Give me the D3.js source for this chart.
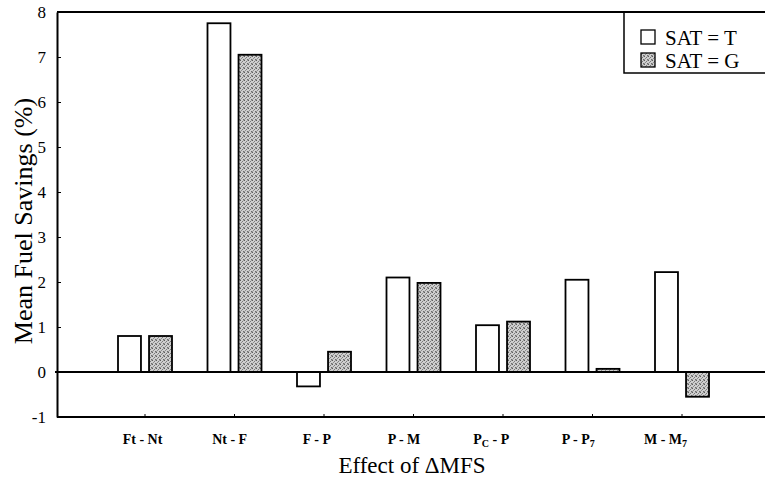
<!DOCTYPE html>
<html><head><meta charset="utf-8">
<script src="https://cdn.jsdelivr.net/npm/d3@7"></script>
<style>body{margin:0;background:#fff}svg{display:block}text{font-family:"Liberation Serif","Times New Roman",serif;fill:#000}</style>
</head><body><svg id="c" width="765" height="486"></svg>
<script>
const categories = ["Ft - Nt","Nt - F","F - P","P - M","Pc - P","P - P7","M - M7"];
const seriesNames = ["SAT = T","SAT = G"];
const valuesT = [0.8, 7.75, -0.32, 2.1, 1.04, 2.05, 2.22];
const valuesG = [0.8, 7.05, 0.45, 1.98, 1.12, 0.07, -0.55];
const yTicks = [-1,0,1,2,3,4,5,6,7,8];

const svg = d3.select("#c");
const defs = svg.append("defs");
const pat = defs.append("pattern").attr("id","stip").attr("width",4).attr("height",4).attr("patternUnits","userSpaceOnUse");
pat.append("rect").attr("width",4).attr("height",4).attr("fill","#cfcfcf");
[[0,0,"#5e5e5e"],[2,1,"#7a7a7a"],[1,2,"#8c8c8c"],[3,3,"#6e6e6e"],[3,0,"#a0a0a0"],[0,3,"#999"]].forEach(p=>
  pat.append("rect").attr("x",p[0]).attr("y",p[1]).attr("width",1).attr("height",1).attr("fill",p[2]));

const L = 57, R = 770, T = 12, B = 417;
const y = d3.scaleLinear().domain([-1,8]).range([B,T]);
const x = d3.scaleBand().domain(categories).range([100.25, 726.75]).padding(0);
const xi = d3.scaleBand().domain(["T","G"]).range([17.75, 71.75]).paddingInner(0.26);
const xl = d3.scalePoint().domain(categories).range([142, 665]);

const data = categories.map((c,i)=>({c, T:valuesT[i], G:valuesG[i]}));
const g = svg.append("g");
const fills = {T:"#fff", G:"url(#stip)"};
["T","G"].forEach(k=>{
  g.selectAll("rect.b"+k).data(data).join("rect")
    .attr("x", d=>x(d.c)+xi(k))
    .attr("width", xi.bandwidth())
    .attr("y", d=>y(Math.max(0,d[k])))
    .attr("height", d=>Math.abs(y(d[k])-y(0)))
    .attr("fill", fills[k]).attr("stroke","#000").attr("stroke-width",1.8);
});

// frame
svg.append("line").attr("x1",L).attr("x2",R).attr("y1",B).attr("y2",B).attr("stroke","#000").attr("stroke-width",2);
svg.append("line").attr("x1",L-2).attr("x2",R).attr("y1",y(0)).attr("y2",y(0)).attr("stroke","#000").attr("stroke-width",2);

// y axis
const ya = svg.append("g").attr("transform",`translate(${L},0)`)
  .call(d3.axisLeft(y).tickValues(yTicks).tickSizeInner(-4).tickSizeOuter(0).tickPadding(11).tickFormat(d=>String(d)));
ya.select(".domain").attr("stroke-width",2);
ya.selectAll("text").attr("font-size",17).style("font-family","Liberation Serif");

// x ticks
const xa = svg.append("g").attr("transform",`translate(0,${B})`)
  .call(d3.axisBottom(x).tickSizeInner(-3).tickSizeOuter(0).tickFormat(""));
xa.select(".domain").remove();
// x tick labels
const xla = svg.append("g").attr("transform",`translate(0,${B})`)
  .call(d3.axisBottom(xl).tickSize(0).tickFormat(""));
xla.select(".domain").remove();
const lab = xla.selectAll(".tick").append("text").attr("y",27).attr("text-anchor","middle")
  .attr("font-size",14).attr("font-weight","bold");
lab.each(function(d){
  const t = d3.select(this);
  const sub = {"Pc - P":["P","C"," - P"],"P - P7":["P - P","7",""],"M - M7":["M - M","7",""]}[d];
  if(sub){
    t.append("tspan").text(sub[0]);
    t.append("tspan").attr("dy",3).attr("font-size",10).text(sub[1]);
    if(sub[2]) t.append("tspan").attr("dy",-3).text(sub[2]);
  } else t.text(d);
});

// axis titles
svg.append("text").attr("transform","translate(32,221) rotate(-90)").attr("text-anchor","middle").attr("font-size",26).text("Mean Fuel Savings (%)");
svg.append("text").attr("x",412).attr("y",473).attr("text-anchor","middle").attr("font-size",23).text("Effect of \u0394MFS");

// legend
const lg = svg.append("g");
lg.append("rect").attr("x",624).attr("y",T).attr("width",160).attr("height",61).attr("fill","#fff").attr("stroke","#000").attr("stroke-width",1.5);
svg.append("line").attr("x1",L).attr("x2",R).attr("y1",T).attr("y2",T).attr("stroke","#000").attr("stroke-width",2);
seriesNames.forEach((s,i)=>{
  lg.append("rect").attr("x",641).attr("y",30+i*23).attr("width",14).attr("height",14)
    .attr("fill", i? "url(#stip)":"#fff").attr("stroke","#000").attr("stroke-width",1.3);
  lg.append("text").attr("x",665).attr("y",45+i*23).attr("font-size",21).text(s);
});
</script></body></html>
